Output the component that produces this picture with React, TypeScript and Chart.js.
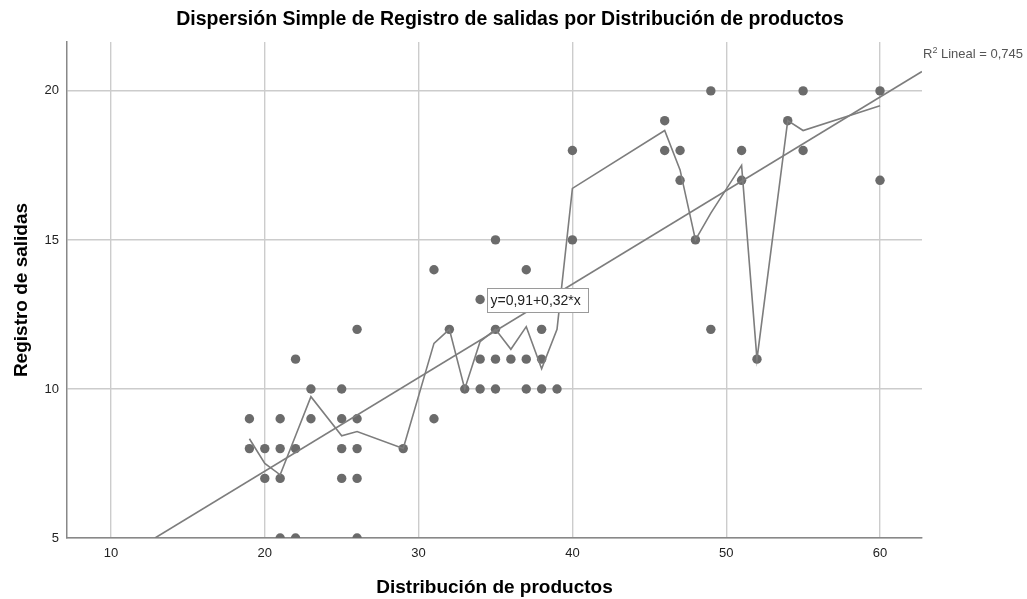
import React, { useEffect, useRef } from "react";
import { Chart, registerables } from "chart.js";

Chart.register(...registerables);

// ---- data ----
const pointX = [19, 19, 20, 20, 21, 21, 21, 21, 22, 22, 22, 23, 23, 25, 25, 25, 25, 26, 26, 26, 26, 26, 29, 31, 31, 32, 33, 34, 34, 34, 35, 35, 35, 35, 36, 37, 37, 37, 38, 38, 38, 39, 40, 40, 46, 46, 47, 47, 48, 49, 49, 51, 51, 52, 54, 55, 55, 60, 60];
const pointY = [9, 8, 8, 7, 9, 8, 7, 5, 11, 8, 5, 10, 9, 10, 9, 8, 7, 12, 9, 8, 7, 5, 8, 14, 9, 12, 10, 13, 11, 10, 15, 12, 11, 10, 11, 14, 11, 10, 12, 11, 10, 10, 18, 15, 19, 18, 18, 17, 15, 20, 12, 18, 17, 11, 19, 20, 18, 20, 17];

const meanX = [19, 20, 21, 22, 23, 25, 26, 29, 31, 32, 33, 34, 35, 36, 37, 38, 39, 40, 46, 47, 48, 49, 51, 52, 54, 55, 60];
const meanY = [8.33, 7.5, 7.12, 8.43, 9.74, 8.43, 8.57, 8.0, 11.53, 12.0, 10.0, 11.59, 12.0, 11.33, 12.09, 10.68, 12.0, 16.73, 18.67, 17.35, 15.0, 15.9, 17.5, 11.0, 19.0, 18.67, 19.5];

const fitX = [12.86, 62.73];
const fitY = [5, 20.65];

const xTicks = [10, 20, 30, 40, 50, 60];
const yTicks = [5, 10, 15, 20];

const TITLE = "Dispersión Simple de Registro de salidas por Distribución de productos";
const X_TITLE = "Distribución de productos";
const Y_TITLE = "Registro de salidas";
const EQUATION = "y=0,91+0,32*x";
const R2_VALUE = "0,745";

const FONT = "'Liberation Sans', Arial, sans-serif";

const textPlugin = {
  id: "spssText",
  afterDraw(chart: any) {
    const { ctx, chartArea, scales } = chart;
    const xs = scales.x;
    const ys = scales.y;
    ctx.save();
    // title
    ctx.fillStyle = "#000";
    ctx.font = `bold 19.5px ${FONT}`;
    ctx.textAlign = "center";
    ctx.textBaseline = "alphabetic";
    ctx.fillText(TITLE, 510, 25);
    // x title
    ctx.font = `bold 19px ${FONT}`;
    const cx = (chartArea.left + chartArea.right) / 2;
    ctx.fillText(X_TITLE, cx, 593);
    // y title
    const cy = (chartArea.top + chartArea.bottom) / 2;
    ctx.save();
    ctx.translate(27, cy);
    ctx.rotate(-Math.PI / 2);
    ctx.fillText(Y_TITLE, 0, 0);
    ctx.restore();

    // R2 label
    ctx.fillStyle = "#555";
    ctx.textAlign = "left";
    ctx.font = `13px ${FONT}`;
    let tx = chartArea.right + 1;
    const ty = 58;
    ctx.fillText("R", tx, ty);
    tx += ctx.measureText("R").width;
    ctx.font = `9px ${FONT}`;
    ctx.fillText("2", tx, ty - 5);
    tx += ctx.measureText("2").width;
    ctx.font = `13px ${FONT}`;
    ctx.fillText(" Lineal = " + R2_VALUE, tx, ty);

    // equation box
    const bx = Math.round(xs.getPixelForValue(34.45)) + 0.5;
    const by = Math.round(ys.getPixelForValue(13.39)) + 0.5;
    const bw = 101;
    const bh = 24;
    ctx.fillStyle = "#fff";
    ctx.fillRect(bx, by, bw, bh);
    ctx.strokeStyle = "#9a9a9a";
    ctx.lineWidth = 1;
    ctx.strokeRect(bx, by, bw, bh);
    ctx.fillStyle = "#222";
    ctx.font = `14px ${FONT}`;
    ctx.textAlign = "left";
    ctx.textBaseline = "middle";
    ctx.fillText(EQUATION, bx + 3, by + bh / 2 + 1);
    ctx.restore();
  },
};

export default function App() {
  const ref = useRef<HTMLCanvasElement | null>(null);
  useEffect(() => {
    if (!ref.current) return;
    const points = pointX.map((x, i) => ({ x, y: pointY[i] }));
    const means = meanX.map((x, i) => ({ x, y: meanY[i] }));
    const fit = fitX.map((x, i) => ({ x, y: fitY[i] }));
    const chart = new Chart(ref.current, {
      type: "scatter",
      data: {
        datasets: [
          {
            label: "Lineal",
            data: fit,
            showLine: true,
            borderColor: "#7d7d7d",
            borderWidth: 1.6,
            pointRadius: 0,
            clip: 0,
          } as any,
          {
            label: "Medias",
            data: means,
            showLine: true,
            borderColor: "#7d7d7d",
            borderWidth: 1.6,
            pointRadius: 0,
            clip: 0,
          } as any,
          {
            label: "Registro",
            data: points,
            backgroundColor: "#6b6b6b",
            borderWidth: 0,
            pointRadius: 4.7,
            clip: 0,
          } as any,
        ],
      },
      options: {
        responsive: false,
        animation: false,
        layout: { padding: { left: 0, top: 42, right: 105, bottom: 0 } },
        plugins: {
          legend: { display: false },
          tooltip: { enabled: false },
          title: { display: false },
        },
        scales: {
          x: {
            type: "linear",
            min: 7.14,
            max: 62.73,
            afterBuildTicks: (s: any) => {
              s.ticks = xTicks.map((v) => ({ value: v }));
            },
            afterFit: (s: any) => {
              s.height = 61;
            },
            grid: { color: "#cccccc", lineWidth: 1.4, drawTicks: false },
            border: { display: true, color: "#888888", width: 1.5 },
            ticks: {
              padding: 8,
              color: "#222",
              font: { family: FONT, size: 13 },
              maxRotation: 0,
            },
          },
          y: {
            type: "linear",
            min: 5,
            max: 21.64,
            afterBuildTicks: (s: any) => {
              s.ticks = yTicks.map((v) => ({ value: v }));
            },
            afterFit: (s: any) => {
              s.width = 67;
            },
            grid: { color: "#cccccc", lineWidth: 1.4, drawTicks: false },
            border: { display: true, color: "#888888", width: 1.5 },
            ticks: {
              padding: 8,
              color: "#222",
              font: { family: FONT, size: 13 },
            },
          },
        },
      },
      plugins: [textPlugin],
    });
    return () => chart.destroy();
  }, []);
  return (
    <div style={{ position: "absolute", left: 0, top: 0, width: 1027, height: 599, background: "#fff" }}>
      <canvas ref={ref} width={1027} height={599} style={{ display: "block", width: 1027, height: 599 }} />
    </div>
  );
}
